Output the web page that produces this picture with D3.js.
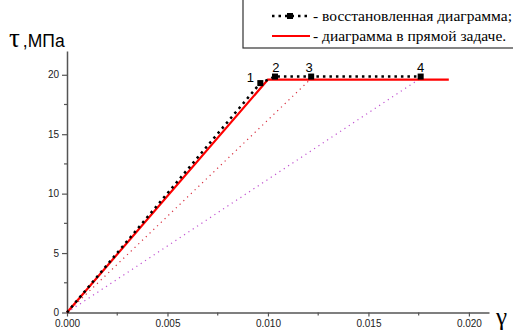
<!DOCTYPE html>
<html><head><meta charset="utf-8">
<script src="https://cdn.jsdelivr.net/npm/d3@7"></script>
<style>body{margin:0;background:#fff;} svg{display:block;}</style>
</head><body>
<svg id="c" width="513" height="332"></svg>
<script>
// Data
const redLine = [[0,0],[0.0100,19.6],[0.0190,19.6]];
const restored = [[0,0],[0.00962,19.3],[0.01035,19.85],[0.01215,19.85],[0.0176,19.85]];
const pointLabels = ["1","2","3","4"];
const secantTo3 = [[0,0],[0.0121,19.6]];
const secantTo4 = [[0,0],[0.0175,19.6]];
const xTicks = [0,0.005,0.010,0.015,0.020];
const yTicks = [0,5,10,15,20];
const legendLabels = ["- восстановленная диаграмма;","- диаграмма в прямой задаче."];

const svg = d3.select("#c");
const x = d3.scaleLinear().domain([0,0.021]).range([67,489]);
const y = d3.scaleLinear().domain([0,22]).range([312.5,51]);
const axisCol = "#555";

// axes
const xAxis = d3.axisBottom(x).tickValues(xTicks).tickFormat(d3.format(".3f")).tickSize(4).tickSizeOuter(0);
const gx = svg.append("g").attr("transform","translate(0,312.5)").call(xAxis);
const yAxis = d3.axisLeft(y).tickValues(yTicks).tickFormat(d3.format("d")).tickSize(5).tickSizeOuter(0);
const gy = svg.append("g").attr("transform","translate(67,0)").call(yAxis);
[gx,gy].forEach(g=>{
  g.select(".domain").attr("stroke",axisCol).attr("stroke-width",1.5);
  g.selectAll(".tick line").attr("stroke",axisCol).attr("stroke-width",1.2);
  g.selectAll("text").attr("font-family","Liberation Sans, Arial, sans-serif").attr("font-size",10).attr("fill","#222");
});
// minor ticks
const xMinor = d3.range(0.0025,0.021,0.005);
svg.append("g").selectAll("line").data(xMinor).join("line")
  .attr("x1",d=>x(d)).attr("x2",d=>x(d)).attr("y1",312.5).attr("y2",315.5)
  .attr("stroke",axisCol).attr("stroke-width",1.2);
const yMinor = d3.range(2.5,22,5);
svg.append("g").selectAll("line").data(yMinor).join("line")
  .attr("x1",67).attr("x2",64).attr("y1",d=>y(d)).attr("y2",d=>y(d))
  .attr("stroke",axisCol).attr("stroke-width",1.2);

const line = d3.line().x(d=>x(d[0])).y(d=>y(d[1]));

// secant dotted lines
svg.append("path").datum(secantTo3).attr("d",line).attr("fill","none")
  .attr("stroke","#d83040").attr("stroke-width",1.2).attr("stroke-dasharray","1.2,4");
svg.append("path").datum(secantTo4).attr("d",line).attr("fill","none")
  .attr("stroke","#c050d0").attr("stroke-width",1.2).attr("stroke-dasharray","1.2,4");

// red line
svg.append("path").datum(redLine).attr("d",line).attr("fill","none")
  .attr("stroke","#ff0000").attr("stroke-width",2.2);

// restored dotted line
svg.append("path").datum(restored).attr("d",line).attr("fill","none")
  .attr("stroke","#000").attr("stroke-width",2.5).attr("stroke-dasharray","2.5,4");
const pts = restored.slice(1);
svg.append("g").selectAll("rect").data(pts).join("rect")
  .attr("x",d=>x(d[0])-3).attr("y",d=>y(d[1])-3).attr("width",6).attr("height",6).attr("fill","#000");
// point labels
const labOff = [[-10,-1],[1,-5],[-2,-5],[0,-5]];
svg.append("g").selectAll("text").data(pts).join("text")
  .attr("x",(d,i)=>x(d[0])+labOff[i][0]).attr("y",(d,i)=>y(d[1])+labOff[i][1])
  .attr("text-anchor","middle").attr("font-family","Liberation Sans, Arial, sans-serif")
  .attr("font-size",13).attr("fill","#000").text((d,i)=>pointLabels[i]);

// axis titles
const yt = svg.append("text").attr("x",9).attr("y",46.5).attr("fill","#000");
yt.append("tspan").attr("font-family","Liberation Serif, Times New Roman, serif").attr("font-size",27).text("τ");
yt.append("tspan").attr("font-family","Liberation Sans, Arial, sans-serif").attr("font-size",17.5).attr("dx",3).text(",МПа");
svg.append("text").attr("x",496).attr("y",325).attr("font-family","Liberation Serif, Times New Roman, serif")
  .attr("font-size",25).attr("fill","#000").text("γ");

// legend
svg.append("rect").attr("x",243).attr("y",-2).attr("width",280).attr("height",50)
  .attr("fill","#fff").attr("stroke","#333").attr("stroke-width",1.2);
svg.append("line").attr("x1",272).attr("x2",311).attr("y1",16).attr("y2",16)
  .attr("stroke","#000").attr("stroke-width",2.5).attr("stroke-dasharray","2.5,4");
svg.append("rect").attr("x",287).attr("y",13).attr("width",6).attr("height",6).attr("fill","#000");
svg.append("line").attr("x1",272).attr("x2",310).attr("y1",36).attr("y2",36)
  .attr("stroke","#ff0000").attr("stroke-width",2.2);
svg.append("g").selectAll("text").data(legendLabels).join("text")
  .attr("x",313).attr("y",(d,i)=>21+i*19.5)
  .attr("font-family","Liberation Serif, Times New Roman, serif").attr("font-size",15.5)
  .attr("fill","#000").text(d=>d);
</script>
</body></html>
